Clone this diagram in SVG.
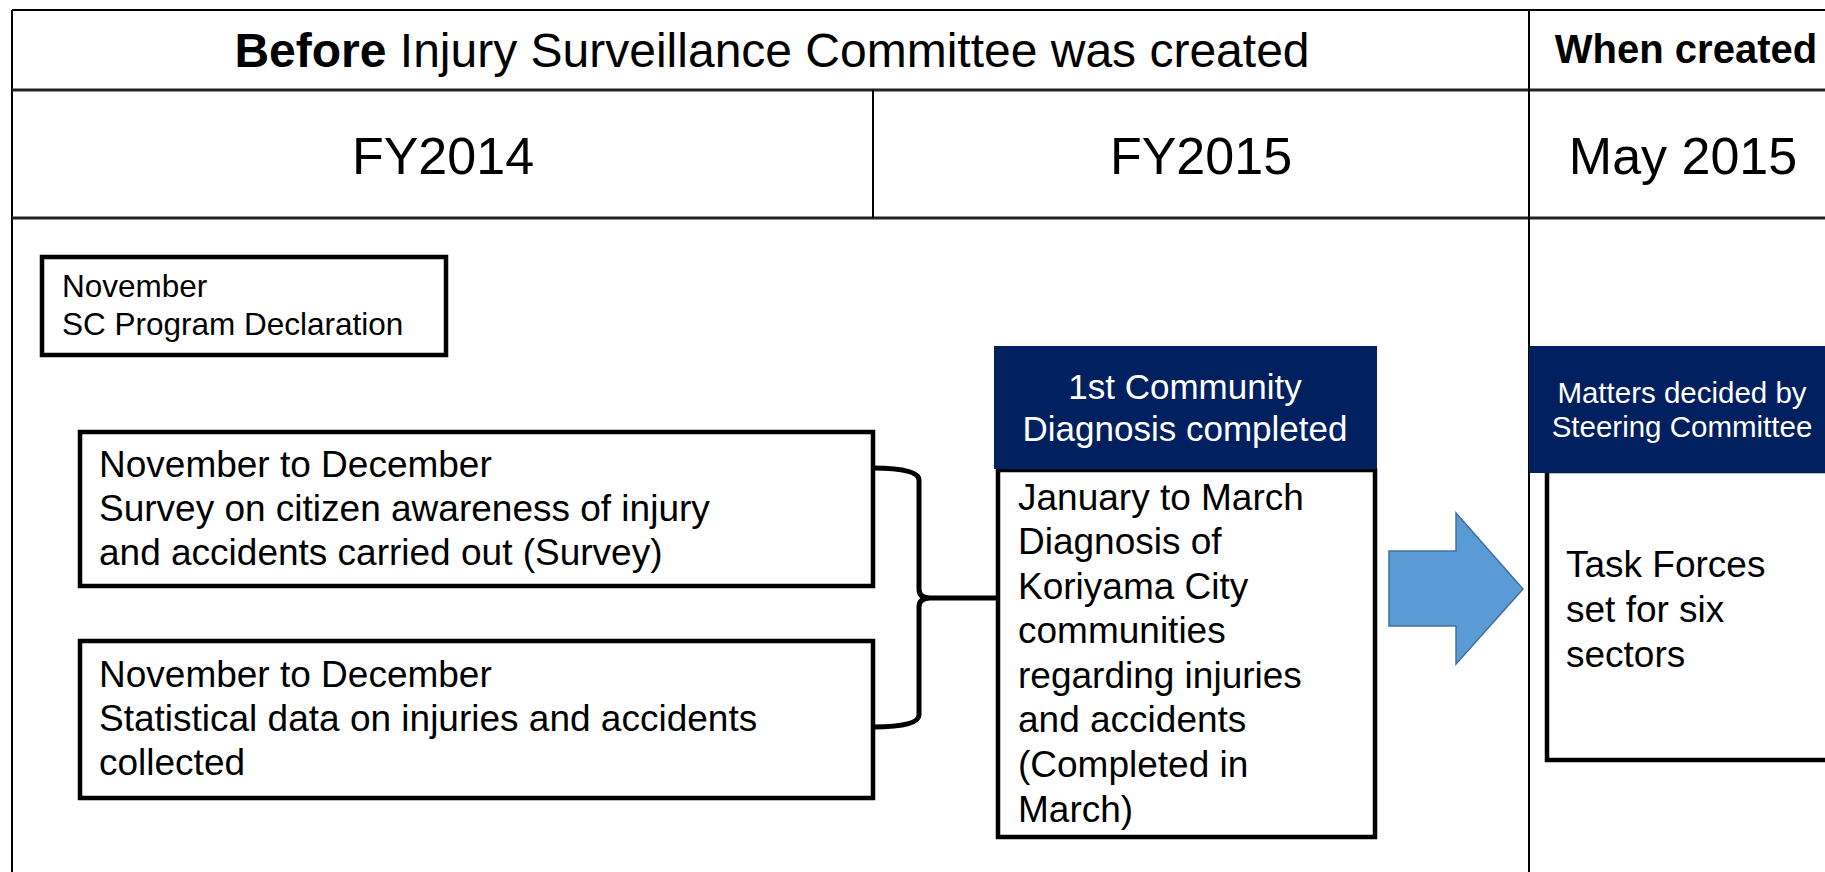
<svg xmlns="http://www.w3.org/2000/svg" width="1825" height="872" viewBox="0 0 1825 872">
<style>
text{font-family:"Liberation Sans",Arial,sans-serif;fill:#000}
.grid{stroke:#000;stroke-width:2;fill:none}
.gridb{stroke:#222;stroke-width:3;fill:none}
.box{fill:#fff;stroke:#000;stroke-width:4.5}
.navy{fill:#002060}
.wt{fill:#fff}
.body{font-size:37px}
</style>
<rect width="1825" height="872" fill="#fff"/>
<g id="table">
<line class="grid" x1="12" y1="10" x2="1825" y2="10" stroke="#555"/>
<line class="grid" x1="12" y1="10" x2="12" y2="872"/>
<line class="gridb" x1="12" y1="90" x2="1825" y2="90"/>
<line class="gridb" x1="12" y1="218" x2="1825" y2="218"/>
<line class="grid" x1="873" y1="90" x2="873" y2="218"/>
<line class="grid" x1="1529" y1="10" x2="1529" y2="872"/>
<text x="772" y="67" font-size="48" text-anchor="middle"><tspan font-weight="bold">Before</tspan> Injury Surveillance Committee was created</text>
<text x="1686" y="63" font-size="40" font-weight="bold" text-anchor="middle">When created</text>
<text x="443" y="174" font-size="52" text-anchor="middle">FY2014</text>
<text x="1201" y="174" font-size="52" text-anchor="middle">FY2015</text>
<text x="1683" y="174" font-size="52" text-anchor="middle">May 2015</text>
</g>
<g id="node-november">
<rect class="box" x="42" y="257" width="404" height="98"/>
<text x="62" y="297" font-size="31.5">November</text>
<text x="62" y="335" font-size="31.5">SC Program Declaration</text>
</g>
<g id="node-survey">
<rect class="box" x="80" y="432" width="793" height="154"/>
<text class="body" x="99" y="477">November  to December</text>
<text class="body" x="99" y="521">Survey on citizen awareness of injury</text>
<text class="body" x="99" y="565">and accidents carried out (Survey)</text>
</g>
<g id="node-statistics">
<rect class="box" x="80" y="641" width="793" height="157"/>
<text class="body" x="99" y="687">November  to December</text>
<text class="body" x="99" y="731">Statistical data on injuries and accidents</text>
<text class="body" x="99" y="775">collected</text>
</g>
<g id="node-diagnosis">
<rect class="box" x="998" y="470" width="377" height="367"/>
<rect class="navy" x="994" y="346" width="383" height="123"/>
<text class="wt" x="1185" y="399" font-size="35" text-anchor="middle">1st Community</text>
<text class="wt" x="1185" y="441" font-size="35" text-anchor="middle">Diagnosis  completed</text>
<text class="body" x="1018" y="510">January to March</text>
<text class="body" x="1018" y="554">Diagnosis of</text>
<text class="body" x="1018" y="599">Koriyama City</text>
<text class="body" x="1018" y="643">communities</text>
<text class="body" x="1018" y="688">regarding injuries</text>
<text class="body" x="1018" y="732">and accidents</text>
<text class="body" x="1018" y="777">(Completed in</text>
<text class="body" x="1018" y="822">March)</text>
</g>
<g id="node-steering">
<rect class="box" x="1547" y="471" width="300" height="289"/>
<rect class="navy" x="1529" y="346" width="300" height="127"/>
<text class="wt" x="1682" y="403" font-size="29.5" text-anchor="middle">Matters decided by</text>
<text class="wt" x="1682" y="437" font-size="29.5" text-anchor="middle">Steering Committee</text>
<text class="body" x="1566" y="577">Task Forces</text>
<text class="body" x="1566" y="622">set for six</text>
<text class="body" x="1566" y="667">sectors</text>
</g>
<g id="connectors">
<path d="M873,468 Q919,468 919,480 L919,589 Q919,598 930,598 L996,598 M930,598 Q919,598 919,607 L919,715 Q919,727 873,727" fill="none" stroke="#000" stroke-width="5" stroke-linejoin="round"/>
<polygon points="1389,551 1456,551 1456,513 1523,589 1456,664 1456,626 1389,626" fill="#5B9BD5" stroke="#41719C" stroke-width="1.5"/>
</g>
</svg>
